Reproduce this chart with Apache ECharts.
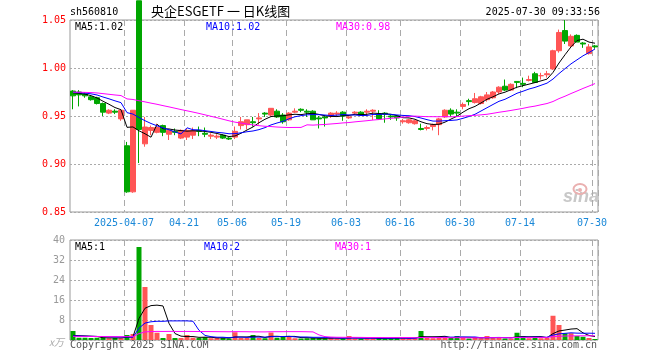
<!DOCTYPE html>
<html><head><meta charset="utf-8">
<script src="https://cdn.jsdelivr.net/npm/echarts@6/dist/echarts.min.js"></script>
<style>html,body{margin:0;padding:0;background:#fff}#c{width:660px;height:360px}</style>
</head><body><div id="c"></div>
<script>
const dates = ['2025-03-24','2025-03-25','2025-03-26','2025-03-27','2025-03-28','2025-03-31','2025-04-01','2025-04-02','2025-04-03','2025-04-07',
'2025-04-08','2025-04-09','2025-04-10','2025-04-11','2025-04-14','2025-04-15','2025-04-16','2025-04-17','2025-04-18','2025-04-21',
'2025-04-22','2025-04-23','2025-04-24','2025-04-25','2025-04-28','2025-04-29','2025-04-30','2025-05-06','2025-05-07','2025-05-08',
'2025-05-09','2025-05-12','2025-05-13','2025-05-14','2025-05-15','2025-05-16','2025-05-19','2025-05-20','2025-05-21','2025-05-22',
'2025-05-23','2025-05-26','2025-05-27','2025-05-28','2025-05-29','2025-05-30','2025-06-03','2025-06-04','2025-06-05','2025-06-06',
'2025-06-09','2025-06-10','2025-06-11','2025-06-12','2025-06-13','2025-06-16','2025-06-17','2025-06-18','2025-06-19','2025-06-20',
'2025-06-23','2025-06-24','2025-06-25','2025-06-26','2025-06-27','2025-06-30','2025-07-01','2025-07-02','2025-07-03','2025-07-04',
'2025-07-07','2025-07-08','2025-07-09','2025-07-10','2025-07-11','2025-07-14','2025-07-15','2025-07-16','2025-07-17','2025-07-18',
'2025-07-21','2025-07-22','2025-07-23','2025-07-24','2025-07-25','2025-07-28','2025-07-29','2025-07-30'];

const opens = [.976,.975,.973,.970,.969,.963,.953,.955,.947,.919,
.871,1.070,.921,.935,.933,.940,.931,.934,.927,.928,
.930,.935,.932,.929,.928,.930,.927,.928,.940,.941,
.944,.947,.953,.951,.955,.951,.946,.954,.957,.955,
.955,.948,.949,.950,.952,.954,.948,.953,.954,.954,
.955,.952,.953,.950,.950,.944,.943,.942,.937,.937,
.939,.941,.949,.956,.954,.960,.966,.964,.963,.967,
.969,.975,.981,.977,.986,.984,.987,.994,.992,.993,
.999,1.018,1.039,1.023,1.034,1.026,1.015,1.023];
const highs = [.977,.977,.975,.971,.970,.964,.957,.957,.957,.923,
.956,1.070,.949,.940,.942,.941,.936,.937,.936,.937,
.938,.939,.938,.932,.931,.931,.928,.939,.949,.946,
.949,.953,.954,.958,.957,.953,.954,.958,.958,.957,
.956,.950,.951,.954,.955,.955,.951,.955,.955,.957,
.957,.956,.954,.951,.951,.947,.947,.946,.942,.940,
.942,.948,.957,.958,.957,.964,.968,.974,.971,.975,
.976,.981,.988,.984,.986,.990,.992,.996,.995,.997,
1.019,1.040,1.050,1.035,1.035,1.027,1.025,1.024];
const lows = [.957,.960,.969,.966,.962,.950,.952,.952,.945,.870,
.870,.901,.918,.930,.932,.929,.925,.930,.926,.925,
.926,.929,.928,.926,.926,.926,.925,.926,.936,.936,
.939,.941,.949,.950,.948,.942,.945,.953,.954,.949,
.946,.937,.939,.948,.950,.945,.947,.951,.950,.951,
.946,.946,.943,.946,.945,.942,.942,.941,.935,.935,
.935,.930,.948,.949,.950,.957,.961,.963,.962,.965,
.968,.973,.976,.976,.979,.980,.986,.985,.988,.990,
.998,1.016,1.025,1.022,1.027,1.021,1.014,1.020];
const closes = [.971,.972,.971,.967,.963,.954,.956,.954,.956,.871,
.956,.936,.9385,.938,.938,.933,.935,.933,.935,.935,
.935,.934,.931,.930,.929,.927,.926,.934,.944,.946,
.943,.948,.952,.958,.949,.944,.953,.955,.956,.954,
.946,.947,.948,.953,.953,.950,.949,.954,.951,.955,
.956,.947,.952,.949,.948,.945,.946,.945,.936,.938,
.941,.947,.956,.952,.953,.962,.965,.968,.970,.972,
.975,.980,.977,.983,.985,.983,.988,.985,.992,.994,
1.018,1.037,1.028,1.033,1.027,1.025,1.022,1.022];
const volumes = [3.6,0.9,0.9,0.8,0.9,1.0,0.7,0.8,0.7,2.0,
2.4,37.2,21.2,6.0,2.9,0.8,2.4,0.8,0.8,2.0,
0.9,0.8,1.1,0.7,0.8,0.8,0.6,3.1,0.8,0.8,
2.0,0.8,0.7,3.0,0.9,1.3,1.3,0.7,0.6,0.7,
0.8,0.7,0.6,1.0,0.6,0.5,1.6,0.6,0.5,0.6,
0.7,0.8,0.5,0.7,1.2,0.7,0.6,0.7,3.6,0.9,
0.7,0.8,1.4,0.9,1.6,0.8,0.6,0.8,0.7,1.6,
0.7,1.2,0.6,0.6,2.9,1.6,0.7,0.9,0.7,0.8,
9.7,6.0,2.7,2.7,1.6,1.3,0.8,0.4];

// level of price / volume before the visible window (at the left edge)
const priorClose = 0.975;
const priorVolume = 1.4;

const labelDates = ['2025-04-07','2025-04-21','2025-05-06','2025-05-19','2025-06-03','2025-06-16','2025-06-30','2025-07-14','2025-07-30'];
const labelTexts = ['2025-04-07','04-21','05-06','05-19','06-03','06-16','06-30','07-14','07-30'];
const priceTicks = [0.85, 0.90, 0.95, 1.00, 1.05];
const volumeTicks = [0, 8, 16, 24, 32, 40];

const RED = '#ff5555', GREEN = '#00a600';
const MONO = '"DejaVu Sans Mono", monospace';

function ma(arr, n, prior) {
  return arr.map((v, i) => {
    let s = 0;
    for (let k = i - n + 1; k <= i; k++) s += (k < 0 ? prior : arr[k]);
    return +(s / n).toFixed(4);
  });
}

const candle = dates.map((d, i) => [opens[i], closes[i], lows[i], highs[i]]);
const volData = volumes.map((v, i) => ({
  value: v,
  itemStyle: { color: closes[i] >= opens[i] ? RED : GREEN }
}));
const labelIdx = labelDates.map(d => dates.indexOf(d));
const isLabel = (i) => labelIdx.indexOf(i) >= 0;

const chart = echarts.init(document.getElementById('c'), null, { renderer: 'canvas' });
const xBase = {
  type: 'category', data: dates, boundaryGap: true,
  axisLine: { show: false }, axisTick: { show: false },
  splitLine: { show: true, interval: (i) => isLabel(i), lineStyle: { color: '#aaa', type: [6, 4], width: 1 } }
};
chart.setOption({
  animation: false,
  backgroundColor: '#fff',
  grid: [
    { left: 70, top: 20, width: 528, height: 192, show: true, borderColor: '#999', borderWidth: 1 },
    { left: 70, top: 240, width: 528, height: 100, show: true, borderColor: '#999', borderWidth: 1 }
  ],
  xAxis: [
    Object.assign({}, xBase, { gridIndex: 0,
      axisLabel: { show: true, interval: (i) => isLabel(i), formatter: (v) => labelTexts[labelDates.indexOf(v)] || '',
        color: '#1a88d8', fontFamily: MONO, fontSize: 10, margin: 6, padding: [0, 6, 0, 0] } }),
    Object.assign({}, xBase, { gridIndex: 1, axisLabel: { show: false } })
  ],
  yAxis: [
    { type: 'value', gridIndex: 0, min: priceTicks[0], max: priceTicks[priceTicks.length - 1], interval: 0.05,
      axisLine: { show: false }, axisTick: { show: false },
      axisLabel: { color: '#ff0000', fontFamily: MONO, fontSize: 10, margin: 4, formatter: (v) => v.toFixed(2) },
      splitLine: { show: true, lineStyle: { color: '#aaa', type: [2, 2] } } },
    { type: 'value', gridIndex: 1, min: volumeTicks[0], max: volumeTicks[volumeTicks.length - 1], interval: 8,
      axisLine: { show: false }, axisTick: { show: false },
      axisLabel: { color: '#999', fontFamily: MONO, fontSize: 10, margin: 5, formatter: (v) => v === 0 ? '' : String(v) },
      splitLine: { show: true, lineStyle: { color: '#aaa', type: [2, 2] } } }
  ],
  series: [
    { type: 'candlestick', xAxisIndex: 0, yAxisIndex: 0, data: candle, barWidth: 5, clip: true,
      itemStyle: { color: RED, color0: GREEN, borderColor: RED, borderColor0: GREEN, borderWidth: 1 } },
    { type: 'line', xAxisIndex: 0, yAxisIndex: 0, data: ma(closes, 5, priorClose), symbol: 'none', lineStyle: { color: '#000', width: 1 } },
    { type: 'line', xAxisIndex: 0, yAxisIndex: 0, data: ma(closes, 10, priorClose), symbol: 'none', lineStyle: { color: '#0000ff', width: 1 } },
    { type: 'line', xAxisIndex: 0, yAxisIndex: 0, data: ma(closes, 30, priorClose), symbol: 'none', lineStyle: { color: '#ff00ff', width: 1 } },
    { type: 'bar', xAxisIndex: 1, yAxisIndex: 1, data: volData, barWidth: 5 },
    { type: 'line', xAxisIndex: 1, yAxisIndex: 1, data: ma(volumes, 5, priorVolume), symbol: 'none', lineStyle: { color: '#000', width: 1 } },
    { type: 'line', xAxisIndex: 1, yAxisIndex: 1, data: ma(volumes, 10, priorVolume), symbol: 'none', lineStyle: { color: '#0000ff', width: 1 } },
    { type: 'line', xAxisIndex: 1, yAxisIndex: 1, data: ma(volumes, 30, priorVolume), symbol: 'none', lineStyle: { color: '#ff00ff', width: 1 } }
  ],
  graphic: [
    { type: 'text', left: 70, top: 7, style: { text: 'sh560810', font: '10px ' + MONO, fill: '#000' } },
    { type: 'text', left: 151, top: 5, style: { text: '央企ESGETF 一 日K线图', font: '13px "Noto Sans CJK SC"', fill: '#000' } },
    { type: 'text', right: 60, top: 7, style: { text: '2025-07-30 09:33:56', font: '10px ' + MONO, fill: '#000' } },
    { type: 'text', left: 75, top: 22, style: { text: 'MA5:1.02', font: '10px ' + MONO, fill: '#000' } },
    { type: 'text', left: 206, top: 22, style: { text: 'MA10:1.02', font: '10px ' + MONO, fill: '#0000ff' } },
    { type: 'text', left: 336, top: 22, style: { text: 'MA30:0.98', font: '10px ' + MONO, fill: '#ff00ff' } },
    { type: 'text', left: 75, top: 242, style: { text: 'MA5:1', font: '10px ' + MONO, fill: '#000' } },
    { type: 'text', left: 204, top: 242, style: { text: 'MA10:2', font: '10px ' + MONO, fill: '#0000ff' } },
    { type: 'text', left: 335, top: 242, style: { text: 'MA30:1', font: '10px ' + MONO, fill: '#ff00ff' } },
    { type: 'text', left: 49, top: 337, style: { text: 'x万', font: 'italic 10px "Noto Sans CJK SC"', fill: '#aaa' } },
    { type: 'text', left: 70, top: 340, style: { text: 'Copyright 2025 SINA.COM', font: '10px ' + MONO, fill: '#555' } },
    { type: 'text', right: 63, top: 340, style: { text: 'http://finance.sina.com.cn', font: '10px ' + MONO, fill: '#555' } },
    { type: 'text', left: 563, top: 188, style: { text: 'sina', font: 'italic bold 18px "Liberation Sans"', fill: '#c8c8c8' } },
    { type: 'ellipse', shape: { cx: 580, cy: 189, rx: 6.5, ry: 5 }, style: { fill: 'none', stroke: '#eab0b0', lineWidth: 2 } },
    { type: 'circle', shape: { cx: 580, cy: 190, r: 2 }, style: { fill: '#eab0b0' } }
  ]
});
</script></body></html>
